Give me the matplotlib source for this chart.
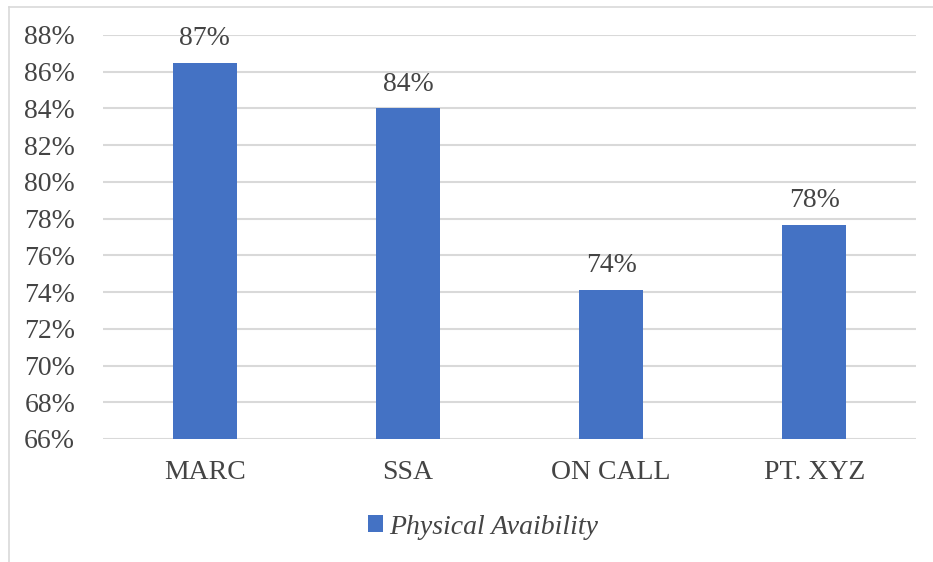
import numpy as np
import matplotlib
matplotlib.use('Agg')
import matplotlib.pyplot as plt
from matplotlib.lines import Line2D
from matplotlib.patches import Patch

# ── Data ──────────────────────────────────────────────────────────────────────
categories = ['MARC', 'SSA', 'ON CALL', 'PT. XYZ']
availability = [86.5, 84.0, 74.1, 77.65]
value_labels = ['87%', '84%', '74%', '78%']
y_ticks = [66, 68, 70, 72, 74, 76, 78, 80, 82, 84, 86, 88]
series_name = 'Physical Avaibility'

BAR_COLOR = '#4472c4'
TEXT_COLOR = '#444444'
GRID_COLOR = '#d9d9d9'
FONT = 'Liberation Serif'
FS = 20

plt.rcParams['font.family'] = FONT

fig = plt.figure(figsize=(9.33, 5.62), dpi=100)
ax = fig.add_axes([103 / 933, 1 - 439 / 562, (916 - 103) / 933, (439 - 35) / 562])

x = np.arange(len(categories))
ax.bar(x, availability, width=0.315, color=BAR_COLOR, zorder=3)

for xi, v, lab in zip(x, availability, value_labels):
    ax.annotate(lab, (xi, v), xytext=(0, 8.5), textcoords='offset points',
                ha='center', va='bottom', fontsize=FS, color=TEXT_COLOR)

ax.set_xlim(-0.5, len(categories) - 0.5)
ax.set_ylim(66, 88)
ax.set_yticks(y_ticks)
ax.set_yticklabels([f'{t}%' for t in y_ticks])
ax.set_xticks(x)
ax.set_xticklabels(categories)
ax.tick_params(axis='both', length=0, labelsize=FS, colors=TEXT_COLOR)
ax.tick_params(axis='y', pad=20)
ax.tick_params(axis='x', pad=15)
ax.yaxis.grid(True, color=GRID_COLOR, linewidth=1.5, zorder=0)
ax.set_axisbelow(True)
for s in ax.spines.values():
    s.set_visible(False)

# light frame around the chart area (only left and top visible in the crop)
fig.add_artist(Line2D([9 / 933, 9 / 933], [0, 1 - 7 / 562],
                      transform=fig.transFigure, color=GRID_COLOR, linewidth=1.2))
fig.add_artist(Line2D([9 / 933, 1], [1 - 7 / 562, 1 - 7 / 562],
                      transform=fig.transFigure, color=GRID_COLOR, linewidth=1.2))

handle = Patch(facecolor=BAR_COLOR, edgecolor='none')
fig.legend([handle], [series_name], loc='center',
           bbox_to_anchor=(483 / 933, 1 - 527 / 562), frameon=False,
           prop={'family': FONT, 'style': 'italic', 'size': FS},
           labelcolor=TEXT_COLOR, handlelength=0.55, handleheight=0.55,
           handletextpad=0.2)

fig.savefig('out.png', dpi=100)
